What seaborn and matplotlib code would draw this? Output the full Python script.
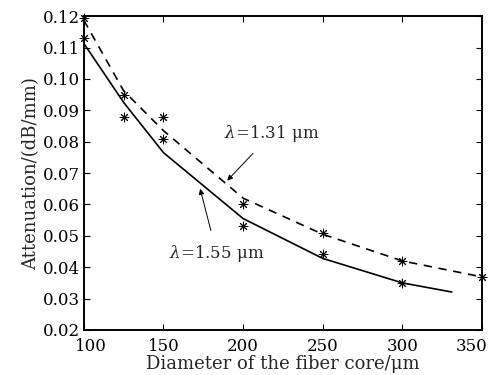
import pandas as pd
import seaborn as sns
import matplotlib.pyplot as plt
import matplotlib.transforms as mtransforms

# curvas (ajuste) y puntos medidos
diam_155 = [100, 125, 150, 200, 250, 300, 331]
aten_155 = [0.1113, 0.0925, 0.0765, 0.0555, 0.0428, 0.0350, 0.0321]
diam_131 = [100, 125, 150, 200, 250, 300, 350]
aten_131 = [0.1187, 0.0962, 0.0835, 0.0620, 0.0505, 0.0420, 0.0369]

pts_x_131 = [100, 125, 150, 200, 250, 300, 350]
pts_y_131 = [0.1195, 0.0948, 0.0878, 0.0600, 0.0510, 0.0420, 0.0370]
pts_x_155 = [100, 125, 150, 200, 250, 300]
pts_y_155 = [0.1130, 0.0878, 0.0810, 0.0530, 0.0443, 0.0350]

x_ticks = [100, 150, 200, 250, 300, 350]
y_ticks = [0.02, 0.03, 0.04, 0.05, 0.06, 0.07, 0.08, 0.09, 0.10, 0.11, 0.12]

sns.set_theme(style="ticks")
plt.rcParams['font.family'] = ['DejaVu Serif']
plt.rcParams['mathtext.fontset'] = 'dejavuserif'

fig = plt.figure(figsize=(4.96, 3.75), dpi=100)
ax = fig.add_axes([0.169, 0.12, 0.803, 0.837])

df155 = pd.DataFrame({"x": diam_155, "y": aten_155})
df131 = pd.DataFrame({"x": diam_131, "y": aten_131})
sns.lineplot(data=df155, x="x", y="y", ax=ax, color="black", linewidth=1.2)
sns.lineplot(data=df131, x="x", y="y", ax=ax, color="black", linewidth=1.2,
             linestyle=(0, (5, 4)))

pts = pd.DataFrame({"x": pts_x_131 + pts_x_155, "y": pts_y_131 + pts_y_155})
sns.scatterplot(data=pts, x="x", y="y", ax=ax, marker=(8, 2, 0), s=40,
                color="black", linewidth=0.7, clip_on=False, zorder=5)

ax.set_xlim(100, 350)
ax.set_ylim(0.02, 0.12)
ax.set_xticks(x_ticks)
ax.set_xticklabels([str(v) for v in x_ticks])
ax.set_yticks(y_ticks)
ax.set_yticklabels([f"{v:.2f}" for v in y_ticks])
ax.tick_params(direction="in", top=True, right=True, length=4, width=0.8,
               labelsize=12, colors="black")
ax.tick_params(axis="x", pad=6)
ax.tick_params(axis="y", pad=3)
for s in ax.spines.values():
    s.set_linewidth(1.4)
    s.set_color("black")

# desplazar etiquetas extremas (como en el original)
xlabs = ax.get_xticklabels()
xlabs[0].set_transform(xlabs[0].get_transform() +
                       mtransforms.ScaledTranslation(7 / 100, 0, fig.dpi_scale_trans))
xlabs[-1].set_transform(xlabs[-1].get_transform() +
                        mtransforms.ScaledTranslation(-10 / 100, 0, fig.dpi_scale_trans))

ax.set_xlabel("Diameter of the fiber core/μm", fontsize=13, labelpad=0)
ax.set_ylabel("Attenuation/(dB/mm)", fontsize=13, labelpad=2)

ax.annotate(r"$\lambda$=1.31 μm", xy=(190, 0.0676), xytext=(218, 0.0826),
            ha="center", va="center", fontsize=12,
            arrowprops=dict(arrowstyle="-|>", color="black", lw=0.7,
                            shrinkA=6, shrinkB=0, mutation_scale=8))
ax.annotate(r"$\lambda$=1.55 μm", xy=(173, 0.0650), xytext=(183.5, 0.0443),
            ha="center", va="center", fontsize=12,
            arrowprops=dict(arrowstyle="-|>", color="black", lw=0.7,
                            shrinkA=7, shrinkB=0, mutation_scale=8))

plt.savefig("out.png", dpi=100)
plt.close()
